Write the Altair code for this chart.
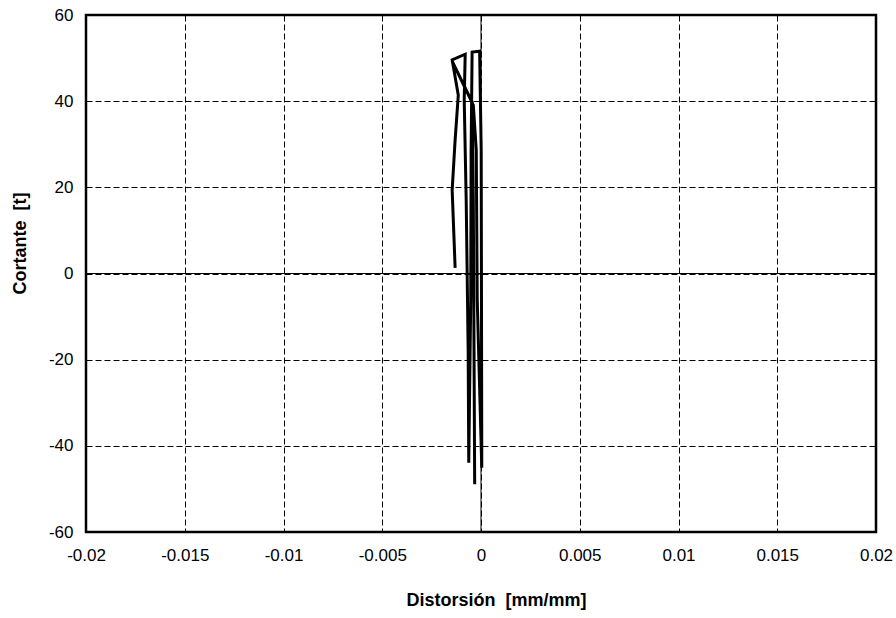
import altair as alt
import pandas as pd

# Hysteresis record: shear distortion (mm/mm) vs. shear force (t), in load order
distorsion = [
    -0.00131, -0.00146, -0.00131, -0.00115, -0.00146, -0.00080, -0.00085,
    -0.00075, -0.00065, -0.00062, -0.00052, -0.00050, -0.00045, -0.00007,
    0.00001, 0.00004, -0.00019, -0.00024, -0.00039, -0.00146, -0.00045,
    -0.00039, -0.00032,
]
cortante = [
    1.3, 19.4, 31.0, 41.4, 49.6, 50.9, 40.3,
    17.1, -17.8, -43.9, -6.2, 28.7, 51.4, 51.6,
    28.7, -45.1, -6.2, 28.7, 39.1, 49.3, 39.8,
    17.1, -48.9,
]

x_ticks = [-0.02, -0.015, -0.01, -0.005, 0, 0.005, 0.01, 0.015, 0.02]
y_ticks = [-60, -40, -20, 0, 20, 40, 60]

df = pd.DataFrame({
    "paso": list(range(len(distorsion))),
    "distorsion": distorsion,
    "cortante": cortante,
})

x_scale = alt.Scale(domain=[-0.02, 0.02], nice=False, zero=False)
y_scale = alt.Scale(domain=[-60, 60], nice=False, zero=False)

x_axis = alt.Axis(
    values=x_ticks, labelExpr="toString(datum.value)", labelFlush=False,
    title="Distorsión \u00a0[mm/mm]", labelPadding=15,
    titleX=410, titleY=68, titleBaseline="middle",
)
y_axis = alt.Axis(
    values=y_ticks, labelExpr="toString(datum.value)", labelFlush=False,
    title="Cortante \u00a0[t]", labelPadding=13,
    titleX=-66, titleY=228, titleAngle=270, titleBaseline="middle",
)

curve = alt.Chart(df).mark_line(color="black", strokeWidth=3).encode(
    x=alt.X("distorsion:Q", scale=x_scale, axis=x_axis),
    y=alt.Y("cortante:Q", scale=y_scale, axis=y_axis),
    order="paso:Q",
)

# Solid reference lines through the origin
zero_x = alt.Chart(pd.DataFrame({"distorsion": [0]})).mark_rule(
    color="black", strokeWidth=1
).encode(x=alt.X("distorsion:Q", scale=x_scale, axis=x_axis))
zero_y = alt.Chart(pd.DataFrame({"cortante": [0]})).mark_rule(
    color="black", strokeWidth=1
).encode(y=alt.Y("cortante:Q", scale=y_scale, axis=y_axis))

chart = (
    alt.layer(curve, zero_x, zero_y)
    .properties(
        width=790, height=517,
        autosize=alt.AutoSizeParams(type="none"),
        padding={"left": 86, "top": 15, "right": 20, "bottom": 86},
    )
    .configure_view(stroke="black", strokeWidth=2.5)
    .configure_axis(
        grid=True, gridColor="black", gridDash=[6, 3], gridWidth=1, gridOpacity=1,
        ticks=False, domain=False,
        labelFont="Liberation Sans", labelFontSize=17, labelColor="black",
        titleFont="Liberation Sans", titleFontSize=18, titleFontWeight="bold",
        titleColor="black",
    )
)

chart.save("out.html", embed_options={"renderer": "svg", "actions": False})
